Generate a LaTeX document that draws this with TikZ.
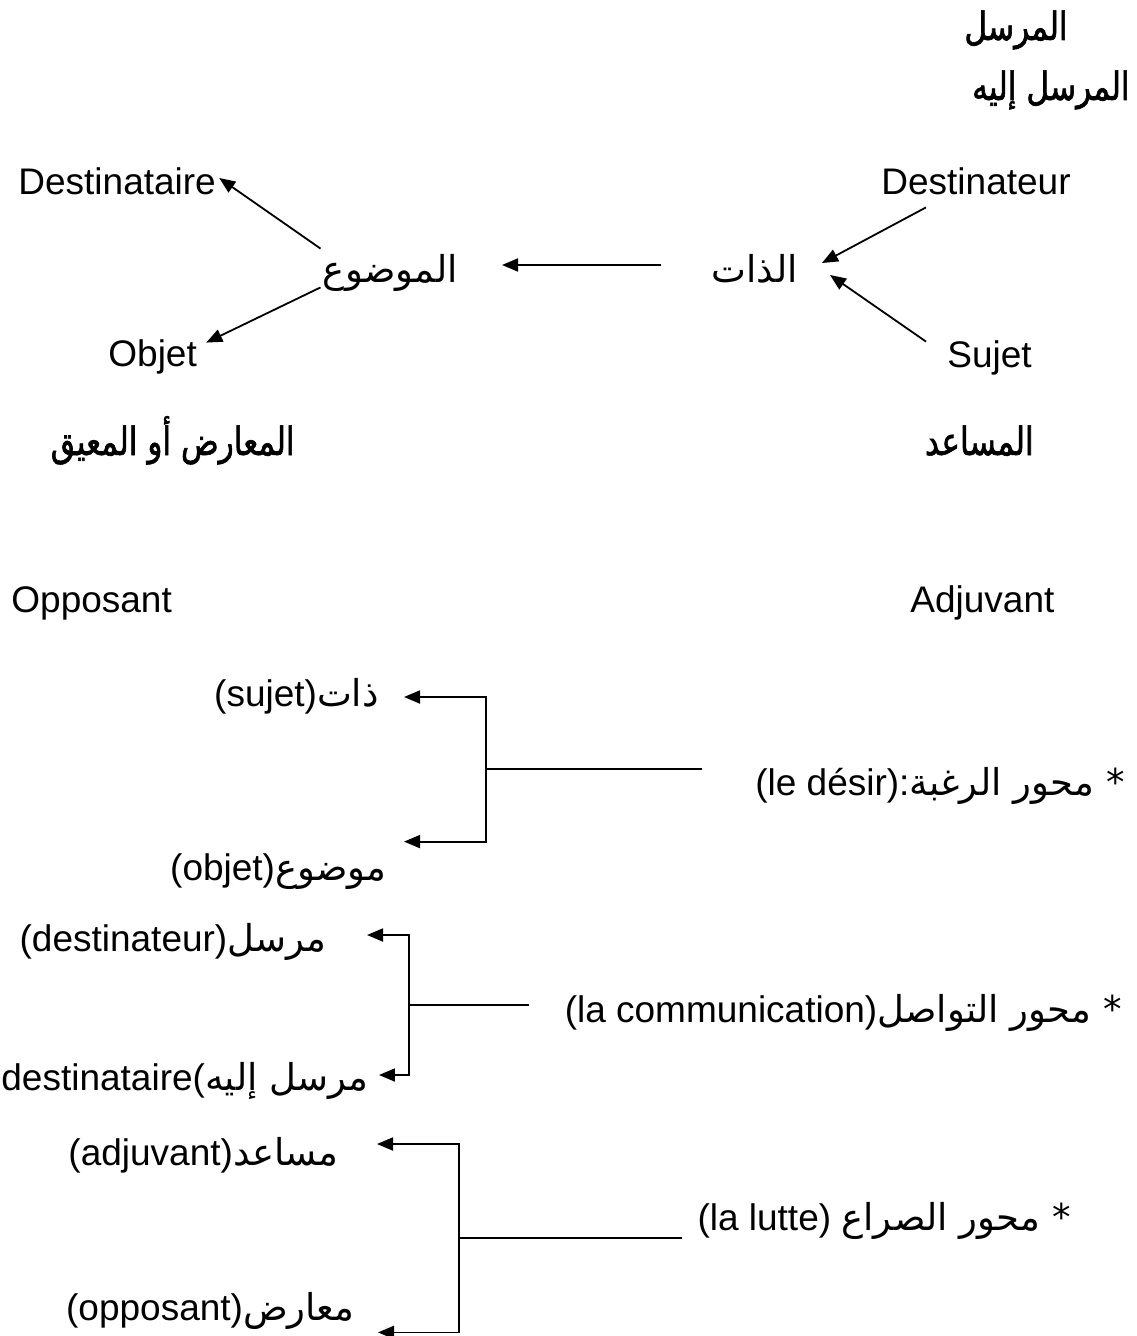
\documentclass[tikz,border=0pt]{standalone}
\usepackage{fontspec}
\setmainfont{Liberation Sans}
\newfontfamily\arabicfont[Script=Arabic]{DejaVu Sans}
\newfontfamily\arabictitle[Script=Arabic,FakeBold=1.5,FakeStretch=0.8]{DejaVu Sans}
\TeXXeTstate=1
\usetikzlibrary{arrows.meta}

\newcommand{\artxt}[1]{{\arabicfont\beginR #1\endR}}
\newcommand{\artitle}[1]{{\arabictitle\beginR #1\endR}}

\tikzset{
  lbl/.style={inner sep=0pt, text height=13pt, text depth=4pt},
  lat/.style={lbl, anchor=base west},
  arb/.style={lbl, anchor=base east},
  ttl/.style={arb, font=\fontsize{19.5}{22}\selectfont},
  arr/.style={-{Triangle[length=8pt,width=6.5pt]}, line width=0.9pt},
  ln/.style={line width=0.9pt}
}

\begin{document}
\begin{tikzpicture}[x=0.5pt, y=-0.5pt, font=\fontsize{18.5}{22}\selectfont]
\useasboundingbox (0,0) rectangle (1136,1336);

% actants
\node[ttl] (marsil) at (1068,40) {\artitle{المرسل}};
\node[ttl] (marsilIlayh) at (1130,100) {\artitle{المرسل إليه}};
\node[lat] (dstr) at (18,195) {Destinataire};
\node[lat] (dteur) at (881,195) {Destinateur};
\node[arb] (mawdu) at (458,283) {\artxt{الموضوع}};
\node[arb] (dhat) at (798,283) {\artxt{الذات}};
\node[lat] (objet) at (108,367) {Objet};
\node[lat] (sujet) at (947,368) {Sujet};
\node[ttl] (muarid) at (295,455) {\artitle{المعارض أو المعيق}};
\node[ttl] (musaid) at (1034,455) {\artitle{المساعد}};
\node[lat] (opp) at (11,612) {Opposant};
\node[lat] (adj) at (910,612) {Adjuvant};

\draw[arr] ([shift={(-2,-8)}]mawdu.north west) -- ([shift={(3,-8)}]dstr.east);
\draw[arr] ([shift={(-2,-4)}]mawdu.south west) -- ([shift={(9,2)}]objet.north east);
\draw[arr] ([shift={(-50,-9)}]dhat.west) -- ([shift={(44,-9)}]mawdu.east);
\draw[arr] ([shift={(45,4)}]dteur.south west) -- ([shift={(24,-11)}]dhat.east);
\draw[arr] ([shift={(-21,0)}]sujet.north west) -- ([shift={(32,1)}]dhat.east);

% axes
\node[arb] (zat) at (379,706) {(sujet)\artxt{ذات}};
\node[arb] (mawdu2) at (387,880) {(objet)\artxt{موضوع}};
\node[arb] (desir) at (1125,795) {(le désir):\artxt{* محور الرغبة}};

\node[arb] (mursil) at (327,951) {(destinateur)\artxt{مرسل}};
\node[lat] (mursilIlayh) at (1,1090) {destinataire(\artxt{مرسل إليه}};
\node[arb] (comm) at (1122,1022) {(la communication)\artxt{* محور التواصل}};

\node[arb] (musaid2) at (339,1165) {(adjuvant)\artxt{مساعد}};
\node[arb] (muarid2) at (355,1320) {(opposant)\artxt{معارض}};
\node[arb] (lutte) at (1071,1230) {(la lutte) \artxt{* محور الصراع}};

\coordinate (fork1) at (486,769);
\draw[ln] ([shift={(-53,-17)}]desir.west) -- (fork1);
\draw[arr] (fork1) |- ([shift={(25,0)}]zat.east);
\draw[arr] (fork1) |- ([shift={(17,-12)}]mawdu2.north east);

\coordinate (fork2) at (409,1005);
\draw[ln] ([shift={(-35,-8)}]comm.west) -- (fork2);
\draw[arr] (fork2) |- ([shift={(40,-7)}]mursil.east);
\draw[arr] (fork2) |- ([shift={(10,-6)}]mursilIlayh.east);

\coordinate (fork3) at (459,1238);
\draw[ln] ([shift={(-15,17)}]lutte.west) -- (fork3);
\draw[arr] (fork3) |- ([shift={(38,-12)}]musaid2.east);
\draw[arr] (fork3) |- ([shift={(23,4)}]muarid2.south east);
\end{tikzpicture}
\end{document}
